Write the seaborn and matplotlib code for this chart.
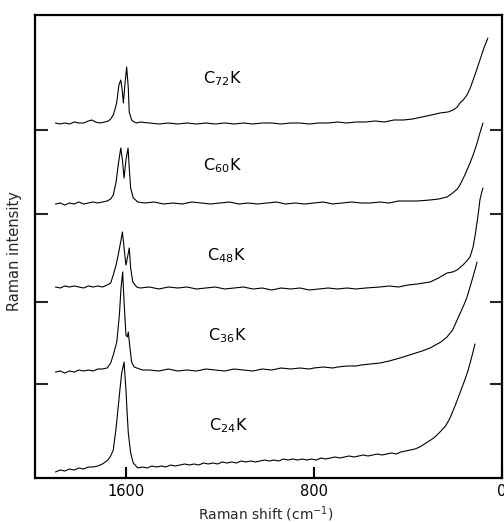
import matplotlib
matplotlib.use("Agg")
import matplotlib.pyplot as plt
import pandas as pd
import seaborn as sns

# ---- data (Raman shift cm^-1, intensity in arbitrary units incl. offset) ----
c72k = [(1900, 355), (1880, 354), (1860, 355), (1840, 354), (1820, 356), (1800, 355), (1780, 355),
        (1760, 357), (1745, 358), (1730, 356), (1710, 355), (1690, 356), (1675, 357), (1665, 359),
        (1654, 363), (1645, 370), (1639, 376), (1630, 393), (1622, 398), (1616, 388), (1611, 375),
        (1604, 395), (1597, 411), (1590, 390), (1586, 366), (1576, 358), (1565, 356), (1554, 355),
        (1540, 356), (1500, 355), (1460, 354), (1420, 355), (1380, 354), (1340, 355), (1300, 354),
        (1260, 355), (1220, 354), (1180, 355), (1140, 354), (1100, 355), (1060, 354), (1020, 355),
        (980, 355), (940, 354), (900, 355), (860, 355), (820, 354), (780, 355), (740, 355),
        (700, 356), (660, 355), (620, 356), (580, 356), (540, 357), (500, 356), (460, 358),
        (420, 358), (380, 359), (340, 361), (300, 363), (264, 365), (230, 366), (208, 368),
        (190, 371), (179, 375), (165, 378), (149, 383), (135, 390), (123, 398), (108, 408),
        (94, 418), (77, 430), (60, 440)]

c60k = [(1900, 274), (1880, 275), (1860, 273), (1840, 275), (1820, 274), (1800, 276), (1780, 274),
        (1760, 275), (1740, 276), (1720, 275), (1700, 276), (1680, 277), (1665, 279), (1654, 283),
        (1642, 296), (1633, 313), (1622, 330), (1615, 318), (1608, 300), (1600, 318), (1591, 330),
        (1586, 310), (1580, 290), (1569, 280), (1549, 276), (1520, 275), (1480, 276), (1440, 274),
        (1400, 275), (1360, 274), (1320, 276), (1280, 275), (1240, 274), (1200, 275), (1160, 276),
        (1120, 274), (1080, 275), (1040, 274), (1000, 275), (960, 276), (920, 274), (880, 275),
        (840, 274), (800, 275), (760, 276), (720, 274), (680, 275), (640, 276), (600, 275),
        (560, 275), (520, 276), (480, 275), (440, 277), (400, 277), (360, 277), (306, 278),
        (270, 279), (234, 281), (210, 285), (190, 289), (179, 293), (160, 302), (136, 315),
        (120, 325), (106, 335), (94, 345), (81, 355)]

c48k = [(1900, 191), (1880, 190), (1860, 192), (1840, 191), (1820, 192), (1800, 191), (1780, 190),
        (1760, 192), (1740, 191), (1720, 192), (1700, 191), (1680, 193), (1665, 195), (1654, 203),
        (1642, 213), (1633, 223), (1625, 233), (1615, 246), (1608, 230), (1600, 213), (1594, 220),
        (1586, 230), (1580, 210), (1571, 196), (1554, 191), (1540, 190), (1500, 191), (1460, 189),
        (1420, 191), (1380, 190), (1340, 191), (1300, 189), (1260, 190), (1220, 191), (1180, 189),
        (1140, 190), (1100, 191), (1060, 189), (1020, 190), (980, 188), (940, 190), (900, 189),
        (860, 190), (820, 188), (780, 189), (740, 190), (700, 189), (660, 190), (620, 189),
        (580, 190), (520, 191), (480, 192), (440, 191), (400, 193), (360, 194), (306, 196),
        (270, 200), (234, 205), (210, 206), (191, 208), (166, 213), (150, 217), (136, 221),
        (123, 231), (114, 243), (106, 256), (100, 266), (94, 278), (86, 286), (81, 290)]

c36k = [(1900, 106), (1880, 107), (1860, 105), (1840, 107), (1820, 106), (1800, 108), (1780, 107),
        (1760, 108), (1740, 107), (1720, 109), (1700, 109), (1680, 110), (1665, 115), (1654, 123),
        (1639, 136), (1628, 163), (1621, 190), (1614, 206), (1608, 176), (1600, 143), (1594, 141),
        (1590, 146), (1583, 130), (1576, 116), (1565, 111), (1554, 110), (1530, 108), (1500, 108),
        (1460, 107), (1420, 109), (1380, 107), (1340, 108), (1300, 107), (1260, 109), (1220, 108),
        (1180, 107), (1140, 109), (1100, 108), (1060, 107), (1020, 109), (980, 108), (940, 110),
        (900, 109), (860, 110), (820, 109), (800, 110), (760, 111), (720, 110), (700, 111),
        (660, 112), (620, 112), (600, 113), (560, 114), (519, 115), (480, 117), (434, 120),
        (380, 124), (340, 127), (306, 130), (260, 136), (234, 141), (210, 148), (191, 158),
        (166, 171), (150, 180), (136, 191), (120, 204), (106, 216)]

c24k = [(1900, 6), (1880, 8), (1860, 7), (1840, 9), (1820, 8), (1800, 10), (1780, 9), (1760, 11),
        (1740, 11), (1720, 12), (1700, 14), (1677, 18), (1665, 22), (1654, 28), (1643, 48),
        (1633, 71), (1625, 90), (1618, 105), (1608, 116), (1600, 88), (1595, 65), (1590, 45),
        (1580, 25), (1569, 15), (1549, 10), (1530, 11), (1510, 10), (1490, 12), (1470, 11),
        (1450, 12), (1430, 11), (1410, 13), (1390, 12), (1370, 13), (1350, 14), (1330, 13),
        (1310, 14), (1290, 13), (1270, 15), (1250, 14), (1230, 15), (1210, 14), (1190, 16),
        (1170, 15), (1150, 16), (1130, 15), (1110, 17), (1090, 16), (1070, 17), (1050, 16),
        (1030, 17), (1010, 18), (990, 17), (970, 18), (950, 17), (930, 19), (910, 18), (890, 19),
        (870, 18), (850, 19), (830, 18), (810, 19), (790, 18), (770, 20), (750, 19), (730, 20),
        (710, 21), (690, 20), (670, 21), (650, 22), (630, 21), (610, 22), (590, 23), (570, 22),
        (550, 23), (530, 24), (510, 23), (490, 24), (470, 25), (450, 24), (430, 26), (410, 27),
        (390, 28), (370, 29), (350, 31), (330, 34), (310, 37), (290, 40), (264, 46), (240, 52),
        (221, 60), (200, 72), (179, 85), (160, 97), (145, 107), (130, 120), (115, 134)]

sample_names = ["C$_{72}$K", "C$_{60}$K", "C$_{48}$K", "C$_{36}$K", "C$_{24}$K"]
spectra = [c72k, c60k, c48k, c36k, c24k]
label_pos = [(1272, 395), (1272, 308), (1255, 218), (1251, 138), (1247, 48)]

x_ticks = [1600, 800, 0]
x_tick_labels = ["1600", "800", "0"]
y_ticks = [94, 176, 264, 348]

# ---- figure ----
sns.set_style("ticks")
plt.rcParams["font.family"] = ["DejaVu Sans"]
plt.rcParams["mathtext.default"] = "regular"

fig = plt.figure(figsize=(5.04, 5.22), dpi=100)
fig.patch.set_facecolor("white")
ax = fig.add_axes([35 / 504, 44 / 522, 467 / 504, 463 / 522])

frames = []
for name, pts in zip(sample_names, spectra):
    df = pd.DataFrame(pts, columns=["shift", "intensity"])
    df["sample"] = name
    frames.append(df)
data = pd.concat(frames, ignore_index=True)

for name in sample_names:
    sub = data[data["sample"] == name]
    sns.lineplot(data=sub, x="shift", y="intensity", ax=ax, color="black",
                 linewidth=0.8, sort=False, estimator=None)

for name, (lx, ly) in zip(sample_names, label_pos):
    ax.text(lx, ly, name, fontsize=11.5, ha="left", va="baseline", color="black")

ax.set_xlim(1987, 0)
ax.set_ylim(0, 463)
ax.set_xticks(x_ticks)
ax.set_xticklabels(x_tick_labels)
ax.set_yticks(y_ticks)
ax.set_yticklabels([])
ax.tick_params(axis="x", direction="in", length=8, width=1.5, pad=4, labelsize=10.5,
               colors="black")
ax.tick_params(axis="y", direction="in", length=9, width=1.5, left=True, right=True)
for sp in ax.spines.values():
    sp.set_visible(True)
    sp.set_linewidth(1.6)
    sp.set_color("black")

ax.set_xlabel("Raman shift (cm$^{-1}$)", fontsize=10)
ax.set_ylabel("Raman intensity", fontsize=10.5)
ax.xaxis.set_label_coords(0.495, -0.056)
ax.yaxis.set_label_coords(-0.028, 0.49)

fig.savefig("out.png", dpi=100)
